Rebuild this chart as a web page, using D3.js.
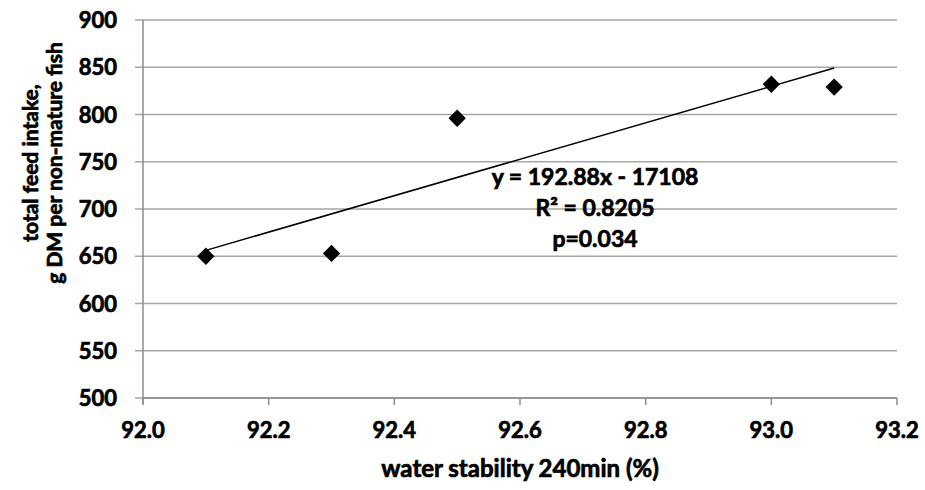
<!DOCTYPE html>
<html><head><meta charset="utf-8">
<script src="https://cdn.jsdelivr.net/npm/d3@7"></script>
<style>body{margin:0;background:#fff}text{font-family:Lato,"Open Sans",sans-serif;font-weight:bold;fill:#000;stroke:#000;stroke-width:0.7px}</style>
</head><body><svg id="c" width="925" height="490"></svg>
<script>
const xValues = [92.1, 92.3, 92.5, 93.0, 93.1];
const yValues = [650, 653, 796, 832, 829];
const xTicks = [92.0, 92.2, 92.4, 92.6, 92.8, 93.0, 93.2];
const yTicks = [500, 550, 600, 650, 700, 750, 800, 850, 900];
const slope = 192.88, intercept = -17108;
const eqLines = ["y = 192.88x - 17108", "R² = 0.8205", "p=0.034"];
const xTitle = "water stability 240min (%)";
const yTitle = ["total feed intake,", "g DM per non-mature fish"];

const svg = d3.select("#c");
const L = 143, R = 897, T = 20, B = 398;
const x = d3.scaleLinear().domain([92.0, 93.2]).range([L, R]);
const y = d3.scaleLinear().domain([500, 900]).range([B, T]);

// gridlines
svg.append("g").selectAll("line").data(yTicks).join("line")
  .attr("x1", L - 8).attr("x2", R).attr("y1", d => y(d)).attr("y2", d => y(d))
  .attr("stroke", "#a6a6a6").attr("stroke-width", 1.5);
// y axis line
svg.append("line").attr("x1", L).attr("x2", L).attr("y1", T).attr("y2", B + 6)
  .attr("stroke", "#8c8c8c").attr("stroke-width", 1.5);
// x axis line
svg.append("line").attr("x1", L).attr("x2", R).attr("y1", B).attr("y2", B)
  .attr("stroke", "#8c8c8c").attr("stroke-width", 1.5);
svg.append("g").selectAll("line").data(xTicks).join("line")
  .attr("x1", d => x(d)).attr("x2", d => x(d)).attr("y1", B).attr("y2", B + 7)
  .attr("stroke", "#8c8c8c").attr("stroke-width", 1.5);

// tick labels
svg.append("g").selectAll("text").data(yTicks).join("text")
  .attr("x", 117).attr("y", d => y(d) + 8)
  .attr("text-anchor", "end").attr("font-size", 22).text(d => d);
svg.append("g").selectAll("text").data(xTicks).join("text")
  .attr("x", d => x(d)).attr("y", 438)
  .attr("text-anchor", "middle").attr("font-size", 22).text(d => d.toFixed(1));

// trendline
const x0 = d3.min(xValues), x1 = d3.max(xValues);
svg.append("line").attr("x1", x(x0)).attr("y1", y(slope * x0 + intercept))
  .attr("x2", x(x1)).attr("y2", y(slope * x1 + intercept))
  .attr("stroke", "#000").attr("stroke-width", 1.5);

// points
const sym = d3.symbol().type(d3.symbolSquare).size(150);
svg.append("g").selectAll("path").data(xValues).join("path")
  .attr("d", sym)
  .attr("transform", (d, i) => `translate(${x(d)},${y(yValues[i])}) rotate(45)`)
  .attr("fill", "#000");

// equation
svg.append("g").selectAll("text").data(eqLines).join("text")
  .attr("x", 595).attr("y", (d, i) => 185 + i * 31)
  .attr("text-anchor", "middle").attr("font-size", 23).text(d => d);

// titles
svg.append("text").attr("x", 520).attr("y", 477)
  .attr("text-anchor", "middle").attr("font-size", 24).text(xTitle);
svg.append("g").attr("transform", "translate(0,163) rotate(-90)")
  .selectAll("text").data(yTitle).join("text")
  .attr("x", 0).attr("y", (d, i) => 38 + i * 24)
  .attr("text-anchor", "middle").attr("font-size", 21).text(d => d);
</script></body></html>
